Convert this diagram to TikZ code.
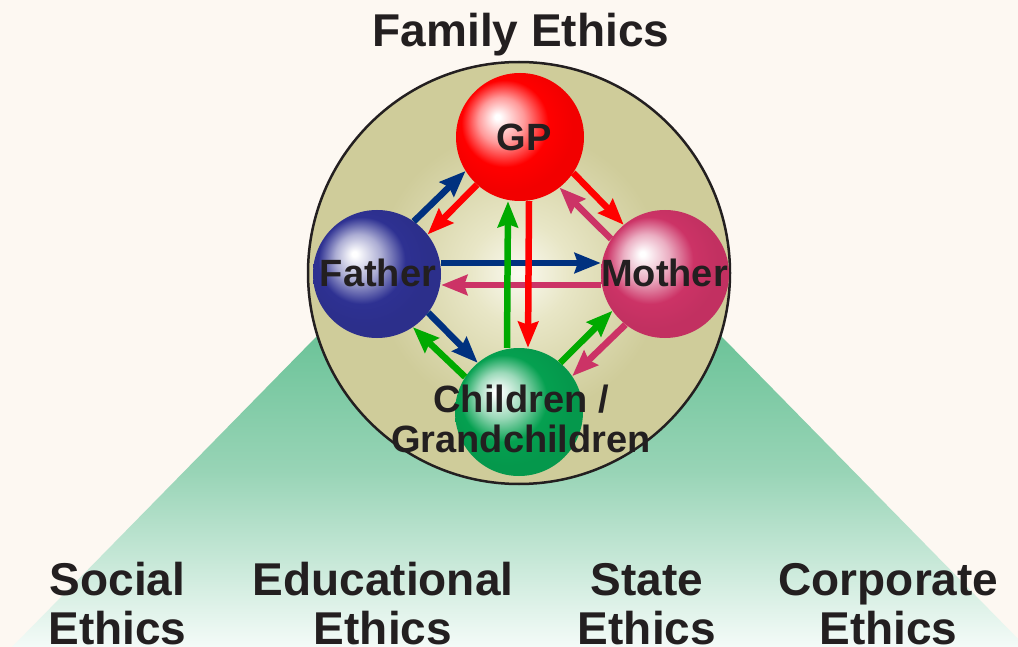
\documentclass[tikz,border=0pt]{standalone}
\usepackage{fontspec}
\setmainfont{Liberation Sans}
\usetikzlibrary{arrows.meta}
\definecolor{bg}{HTML}{FDF8F2}
\definecolor{ink}{HTML}{231F20}
\definecolor{circ}{HTML}{CFCC9A}
\definecolor{glowc}{HTML}{FAF9F0}
\definecolor{glowm}{HTML}{E8E6C6}
\definecolor{gtop}{HTML}{50B886}
\definecolor{gup}{HTML}{6EC49A}
\definecolor{gmid}{HTML}{98D4B6}
\definecolor{gbot}{HTML}{F4FBF8}
\definecolor{gpc}{HTML}{FF0000}
\definecolor{fac}{HTML}{2E3192}
\definecolor{moc}{HTML}{CC3366}
\definecolor{chc}{HTML}{05A050}
\definecolor{navy}{HTML}{00317F}
\definecolor{redar}{HTML}{FF0000}
\definecolor{pinkar}{HTML}{CC3366}
\definecolor{grnar}{HTML}{00AA00}
\pgfdeclareradialshading{glow}{\pgfpoint{0bp}{0bp}}{color(0bp)=(glowc); color(6bp)=(glowm); color(17bp)=(circ); color(50bp)=(circ)}
\pgfdeclareverticalshading{greenfade}{100bp}{color(0bp)=(gbot); color(25bp)=(gbot); color(42bp)=(gmid); color(54.5bp)=(gup); color(75bp)=(gtop); color(100bp)=(gtop)}
\newcommand\mkorb[2]{\pgfdeclareradialshading{#1}{\pgfpoint{-9bp}{8bp}}{color(0bp)=(white); color(1bp)=(white); color(9bp)=(#2!40!white); color(17bp)=(#2); color(25bp)=(#2!95!black); color(50bp)=(#2!95!black)}}
\mkorb{gpshade}{gpc}
\mkorb{fashade}{fac}
\mkorb{moshade}{moc}
\mkorb{chshade}{chc}
\tikzset{
  orb/.style={circle, minimum size=128pt, inner sep=0pt, shade, shading=#1},
  lbl/.style={text=ink, font=\fontsize{38}{40}\selectfont\bfseries, anchor=base, inner sep=0pt},
  biglbl/.style={text=ink, font=\fontsize{46}{50}\selectfont\bfseries, anchor=base, inner sep=0pt},
  arr/.style={line width=6.5pt, draw=#1, -{Stealth[length=26pt,width=20pt,inset=3pt]}},
}
\begin{document}
\begin{tikzpicture}[x=1pt,y=-1pt]
\useasboundingbox (0,0) rectangle (1018,647);
\fill[bg] (0,0) rectangle (1018,647);
\clip (0,0) rectangle (1018,647);
% green fan
\shade[shading=greenfade] (519,130) -- (12,647) -- (1026,647) -- cycle;
% family circle
\node[circle, minimum size=422pt, inner sep=0pt, shade, shading=glow, draw=ink, line width=2.5pt] (family) at (519,273) {};
% spheres
\node[orb=gpshade] (gp) at (520,137) {};
\node[orb=fashade] (father) at (377,274) {};
\node[orb=moshade] (mother) at (665,274) {};
\node[orb=chshade] (children) at (519,412) {};
% arrows
\draw[arr=navy] (father.55) -- (gp.212);
\draw[arr=redar] (gp.228) -- (father.38);
\draw[arr=redar] (gp.326) -- (mother.130);
\draw[arr=pinkar] (mother.147) -- (gp.308);
\draw[arr=navy] ([yshift=11pt]father.east) -- ([yshift=11pt]mother.west);
\draw[arr=pinkar] ([yshift=-11pt]mother.west) -- ([yshift=-11pt]father.east);
\draw[arr=grnar] ([xshift=-12pt]children.north) -- ([xshift=-12pt]gp.south);
\draw[arr=redar] ([xshift=9pt]gp.south) -- ([xshift=9pt]children.north);
\draw[arr=navy] (father.323) -- (children.130);
\draw[arr=grnar] (children.147) -- (father.304);
\draw[arr=grnar] (children.50) -- (mother.215);
\draw[arr=pinkar] (mother.232) -- (children.34);
% labels
\node[biglbl] (title) at (521,47) {Family Ethics};
\node[lbl] (gpl) at (524,151) {GP};
\node[lbl] (fal) at (378,287) {Father};
\node[lbl] (mol) at (664.5,287) {Mother};
\node[lbl] (chl1) at (521,412) {Children /};
\node[lbl] (chl2) at (521,452) {Grandchildren};
\node[biglbl] (soc1) at (117.5,595) {Social};
\node[biglbl] (soc2) at (117.5,644) {Ethics};
\node[biglbl] (edu1) at (383,595) {Educational};
\node[biglbl] (edu2) at (383,644) {Ethics};
\node[biglbl] (sta1) at (647,595) {State};
\node[biglbl] (sta2) at (647,644) {Ethics};
\node[biglbl] (cor1) at (888.5,595) {Corporate};
\node[biglbl] (cor2) at (888.5,644) {Ethics};
\end{tikzpicture}
\end{document}
